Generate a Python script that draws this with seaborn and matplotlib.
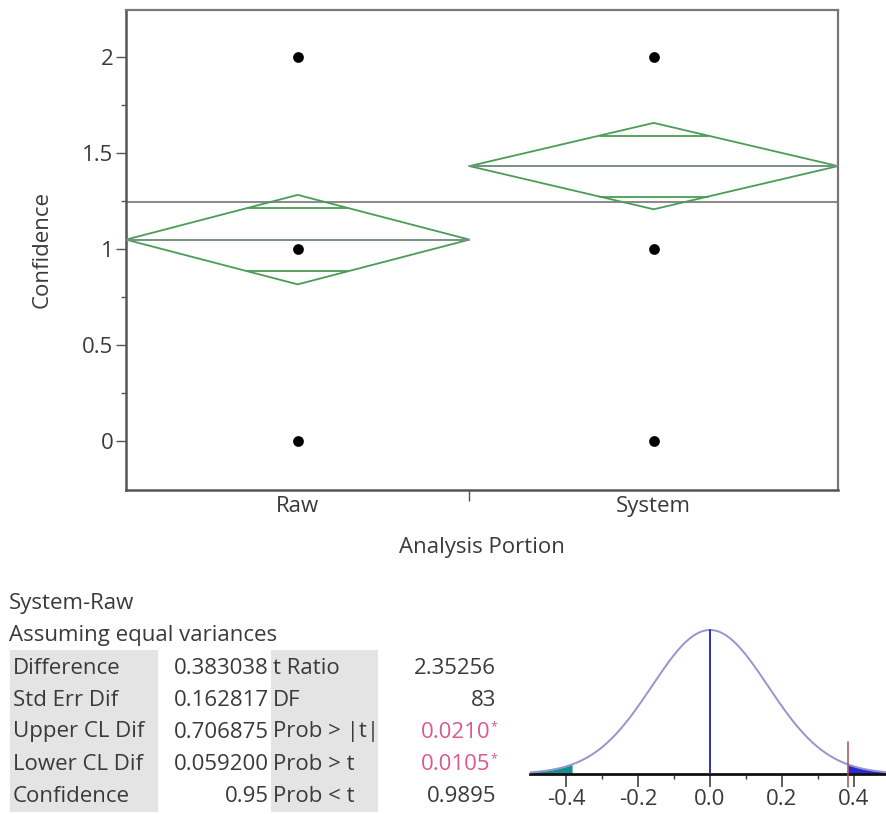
import math
import numpy as np
import pandas as pd
import matplotlib
matplotlib.use("Agg")
import matplotlib.pyplot as plt
from matplotlib.patches import Polygon, Rectangle
import seaborn as sns

# ---- group summary (Oneway: Confidence by Analysis Portion) ----
groups = ["Raw", "System"]
group_n = [41, 44]
group_means = [1.04878, 1.43182]
response_levels = [0, 1, 2]

# ---- System-Raw comparison report ----
difference = 0.383038
std_err_dif = 0.162817
upper_cl_dif = 0.706875
lower_cl_dif = 0.059200
confidence_level = 0.95
t_ratio = 2.35256
dof = 83
prob_abs_t = 0.0210
prob_gt_t = 0.0105
prob_lt_t = 0.9895

y_ticks = [0, 0.5, 1, 1.5, 2]
y_tick_labels = ["0", "0.5", "1", "1.5", "2"]
y_minor_ticks = [0.25, 0.75, 1.25, 1.75]
t_axis_ticks = [-0.4, -0.2, 0.0, 0.2, 0.4]
t_axis_labels = ["-0.4", "-0.2", "0.0", "0.2", "0.4"]
t_axis_minor = [-0.3, -0.1, 0.1, 0.3]

sns.set_style("ticks")
plt.rcParams["font.family"] = ["Open Sans", "DejaVu Sans"]
plt.rcParams["axes.unicode_minus"] = False

TEXT = "#3a3a3a"
GREEN = "#4a9c57"
MEAN_LINE = "#7a8f84"
FS = 16

W, H = 886, 814
fig = plt.figure(figsize=(W / 100, H / 100), dpi=100)
fig.patch.set_facecolor("white")


def fx(x):
    return x / W


def fy(y):
    return 1 - y / H


# ================= means diamonds plot =================
ax = fig.add_axes([fx(126), fy(490), (838 - 126) / W, (490 - 10) / H])

edges = np.concatenate([[0], np.cumsum(group_n)])
centers = (edges[:-1] + edges[1:]) / 2
t_crit = (upper_cl_dif - difference) / std_err_dif
rmse = std_err_dif / math.sqrt(sum(1 / n for n in group_n))
grand_mean = sum(n * m for n, m in zip(group_n, group_means)) / sum(group_n)

points = pd.DataFrame(
    [(c, v) for c in centers for v in response_levels],
    columns=["pos", "Confidence"],
)
sns.scatterplot(data=points, x="pos", y="Confidence", color="black",
                s=60, linewidth=0, ax=ax, zorder=5)

ax.axhline(grand_mean, color="#8c8c8c", lw=1.5, zorder=2)

for x0, x1, xc, n, m in zip(edges[:-1], edges[1:], centers, group_n, group_means):
    hw = t_crit * rmse / math.sqrt(n)
    ax.add_patch(Polygon([(x0, m), (xc, m + hw), (x1, m), (xc, m - hw)],
                         closed=True, fill=False, edgecolor=GREEN, lw=1.3,
                         zorder=3))
    ax.plot([x0, x1], [m, m], color=MEAN_LINE, lw=1.4, zorder=3)
    ov = hw / math.sqrt(2)
    half = (1 - 1 / math.sqrt(2)) * (x1 - x0) / 2
    for yy in (m + ov, m - ov):
        ax.plot([xc - half, xc + half], [yy, yy], color=GREEN, lw=1.3, zorder=3)

ax.set_xlim(edges[0], edges[-1])
ax.set_ylim(-49 / 192, 431 / 192)

ax.set_yticks(y_ticks)
ax.set_yticklabels(y_tick_labels)
ax.set_yticks(y_minor_ticks, minor=True)
ax.set_xticks(edges[1:-1])
ax.set_xticklabels([])
ax.set_xticks(centers, minor=True)
ax.set_xticklabels(groups, minor=True)

ax.tick_params(axis="y", which="major", length=7, width=1, color="#555555",
               labelsize=FS, labelcolor=TEXT, pad=2)
ax.tick_params(axis="y", which="minor", length=3.5, width=1, color="#555555")
ax.tick_params(axis="x", which="major", length=8, width=1, color="#555555")
ax.tick_params(axis="x", which="minor", length=0, labelsize=FS,
               labelcolor=TEXT, pad=4)

for side in ["left", "bottom"]:
    ax.spines[side].set_color("#555555")
    ax.spines[side].set_linewidth(1.8)
for side in ["top", "right"]:
    ax.spines[side].set_visible(True)
    ax.spines[side].set_color("#777777")
    ax.spines[side].set_linewidth(1.6)

ax.set_ylabel("Confidence", fontsize=FS, color=TEXT)
ax.yaxis.label.set_va("center")
ax.yaxis.set_label_coords(-(126 - 42) / 712, (490 - 249) / 480)
ax.set_xlabel("Analysis Portion", fontsize=FS, color=TEXT)
ax.xaxis.label.set_va("center")
ax.xaxis.set_label_coords(0.5, -(547 - 490) / 480)

# ================= comparison report =================
fig.text(fx(9), fy(604), "System-Raw", fontsize=FS, color=TEXT, va="center")
fig.text(fx(9), fy(636), "Assuming equal variances", fontsize=FS,
         color=TEXT, va="center")

fig.add_artist(Rectangle((fx(10), fy(812)), (158 - 10) / W, (812 - 650) / H,
                         transform=fig.transFigure, facecolor="#e4e4e4",
                         edgecolor="none", zorder=0))
fig.add_artist(Rectangle((fx(271), fy(812)), (378 - 271) / W, (812 - 650) / H,
                         transform=fig.transFigure, facecolor="#e4e4e4",
                         edgecolor="none", zorder=0))

stat_labels = ["Difference", "Std Err Dif", "Upper CL Dif", "Lower CL Dif",
               "Confidence"]
stat_values = [f"{difference:.6f}", f"{std_err_dif:.6f}", f"{upper_cl_dif:.6f}",
               f"{lower_cl_dif:.6f}", f"{confidence_level:.2f}"]
test_labels = ["t Ratio", "DF", "Prob > |t|", "Prob > t", "Prob < t"]
test_values = [f"{t_ratio:.5f}", f"{dof:d}", f"{prob_abs_t:.4f}",
               f"{prob_gt_t:.4f}", f"{prob_lt_t:.4f}"]
significant = [False, False, prob_abs_t < 0.05, prob_gt_t < 0.05, False]

PINK = "#e0578a"
for i in range(5):
    yrow = 668 + 32 * i
    fig.text(fx(13), fy(yrow), stat_labels[i], fontsize=FS, color=TEXT,
             va="center", zorder=2)
    fig.text(fx(269), fy(yrow), stat_values[i], fontsize=FS, color=TEXT,
             va="center", ha="right", zorder=2)
    fig.text(fx(273), fy(yrow), test_labels[i], fontsize=FS, color=TEXT,
             va="center", zorder=2)
    if significant[i]:
        fig.text(fx(490), fy(yrow), test_values[i], fontsize=FS, color=PINK,
                 va="center", ha="right", zorder=2)
        fig.text(fx(490.5), fy(yrow - 5), "*", fontsize=9, color=PINK,
                 va="center", ha="left", zorder=2)
    else:
        fig.text(fx(496), fy(yrow), test_values[i], fontsize=FS, color=TEXT,
                 va="center", ha="right", zorder=2)

# ================= t-test distribution =================
ax2 = fig.add_axes([fx(530), fy(774), (886 - 530) / W, 170 / H])
x_lo, x_hi = -0.5, -0.5 + 356 / 360
xs = np.union1d(np.linspace(x_lo, x_hi, 800), [-difference, difference])
log_c = (math.lgamma((dof + 1) / 2) - math.lgamma(dof / 2)
         - 0.5 * math.log(dof * math.pi))
dens = np.exp(log_c) * (1 + (xs / std_err_dif) ** 2 / dof) ** (-(dof + 1) / 2)
dens = dens / std_err_dif
peak = dens.max()

left = xs <= -difference
right = xs >= difference
ax2.fill_between(xs[left], 0, dens[left], color="#178f8f", lw=0, zorder=2)
ax2.fill_between(xs[right], 0, dens[right], color="#2a2ad2", lw=0, zorder=2)
sns.lineplot(x=xs, y=dens, ax=ax2, color="#9595cf", lw=1.4, sort=False,
             estimator=None, zorder=3)
ax2.plot([0, 0], [0, peak], color="#2f2fb8", lw=1.4, zorder=4)
ax2.plot([difference, difference], [-13 / 144 * peak, 32 / 144 * peak],
         color="#a85050", lw=1.1, clip_on=False, zorder=4)

ax2.set_xlim(x_lo, x_hi)
ax2.set_ylim(0, peak * 170 / 144)
ax2.set_xticks(t_axis_ticks)
ax2.set_xticklabels(t_axis_labels)
ax2.set_xticks(t_axis_minor, minor=True)
ax2.set_yticks([])
ax2.tick_params(axis="x", which="major", length=9, width=1.1, color="#333333",
                labelsize=FS, labelcolor=TEXT, pad=2)
ax2.tick_params(axis="x", which="minor", length=3.5, width=1, color="#333333")
for side in ["left", "top", "right"]:
    ax2.spines[side].set_visible(False)
ax2.spines["bottom"].set_color("#111111")
ax2.spines["bottom"].set_linewidth(2)
ax2.patch.set_alpha(0)

fig.savefig("out.png", dpi=100, facecolor="white")
